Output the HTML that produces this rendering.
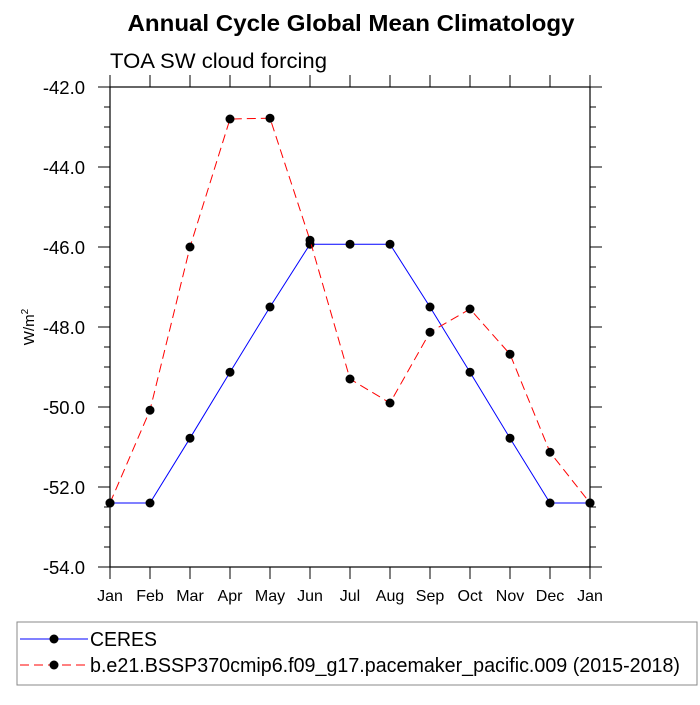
<!DOCTYPE html>
<html><head><meta charset="utf-8"><style>
body{margin:0;background:#fff}
svg text{font-family:"Liberation Sans",sans-serif}
</style></head><body>
<svg id="chart" width="700" height="700" xmlns="http://www.w3.org/2000/svg">
<text x="351" y="31" text-anchor="middle" font-size="23" font-weight="bold" textLength="447" lengthAdjust="spacingAndGlyphs">Annual Cycle Global Mean Climatology</text>
<text x="110" y="68" font-size="21" textLength="217" lengthAdjust="spacingAndGlyphs">TOA SW cloud forcing</text>
<text transform="translate(34,327) rotate(-90)" text-anchor="middle" font-size="15">W/m<tspan font-size="10" dy="-6">2</tspan></text>
<g id="axes"></g>
<g id="series"></g>
<rect x="17" y="622" width="680" height="63" fill="none" stroke="#888" stroke-width="1"/>
<g>
<line x1="20" y1="639" x2="88" y2="639" stroke="#0000ff" stroke-width="1"/>
<circle cx="54" cy="639" r="4.5" fill="#000"/>
<text x="90" y="646" font-size="20" textLength="67" lengthAdjust="spacingAndGlyphs">CERES</text>
</g>
<g>
<line x1="20" y1="665" x2="88" y2="665" stroke="#ff0000" stroke-width="1" stroke-dasharray="9,5"/>
<circle cx="54" cy="665" r="4.5" fill="#000"/>
<text x="90" y="672" font-size="20" textLength="590" lengthAdjust="spacingAndGlyphs">b.e21.BSSP370cmip6.f09_g17.pacemaker_pacific.009 (2015-2018)</text>
</g>
</svg>
<script>
const months=["Jan","Feb","Mar","Apr","May","Jun","Jul","Aug","Sep","Oct","Nov","Dec","Jan"];
const ceres=[-52.4,-52.4,-50.78,-49.13,-47.5,-45.93,-45.93,-45.93,-47.5,-49.13,-50.78,-52.4,-52.4];
const model=[-52.4,-50.08,-46.0,-42.8,-42.78,-45.83,-49.3,-49.9,-48.13,-47.55,-48.68,-51.13,-52.4];
const yTicks=[-42.0,-44.0,-46.0,-48.0,-50.0,-52.0,-54.0];
const yMin=-54,yMax=-42;
const L=110,R=590,T=87,B=567;
const xs=i=>L+i*(R-L)/(months.length-1);
const ys=v=>B-(v-yMin)/(yMax-yMin)*(B-T);
const NS="http://www.w3.org/2000/svg";
function mk(tag,attrs,parent){const e=document.createElementNS(NS,tag);for(const k in attrs)e.setAttribute(k,attrs[k]);parent.appendChild(e);return e;}
const ax=document.getElementById('axes');
const frame=mk('rect',{x:L,y:T,width:R-L,height:B-T,fill:'none',stroke:'#000','stroke-width':1.2},ax);


months.forEach((m,i)=>{
  const x=xs(i);
  mk('line',{x1:x,y1:B,x2:x,y2:B+12,stroke:'#000'},ax);
  mk('line',{x1:x,y1:T,x2:x,y2:T-12,stroke:'#000'},ax);
  const t=mk('text',{x:x,y:B+34,'text-anchor':'middle','font-size':16},ax);
  t.textContent=m;
  
  
});
for(let v=yMin;v<=yMax+1e-9;v+=0.5){
  const y=ys(v);const major=Math.abs(v/2-Math.round(v/2))<1e-6;
  const len=major?12:6;
  mk('line',{x1:L-len,y1:y,x2:L,y2:y,stroke:'#000'},ax);
  mk('line',{x1:R,y1:y,x2:R+len,y2:y,stroke:'#000'},ax);
}
yTicks.forEach(v=>{
  const t=mk('text',{x:85,y:ys(v)+7,'text-anchor':'end','font-size':18.5},ax);
  t.textContent=v.toFixed(1);
  
  
});
const sg=document.getElementById('series');
function draw(vals,color,dash,name){
  const g=mk('g',{},sg);
  
  
  const p=mk('polyline',{points:vals.map((v,i)=>xs(i)+','+ys(v)).join(' '),fill:'none',stroke:color,'stroke-width':1},g);
  if(dash)p.setAttribute('stroke-dasharray',dash);
  vals.forEach((v,i)=>{
    const c=mk('circle',{cx:xs(i),cy:ys(v),r:4.5,fill:'#000'},g);
    
    
  });
}
draw(ceres,'#0000ff',null,'ceres-series');
draw(model,'#ff0000','9,5','model-series');
</script>
</body></html>
